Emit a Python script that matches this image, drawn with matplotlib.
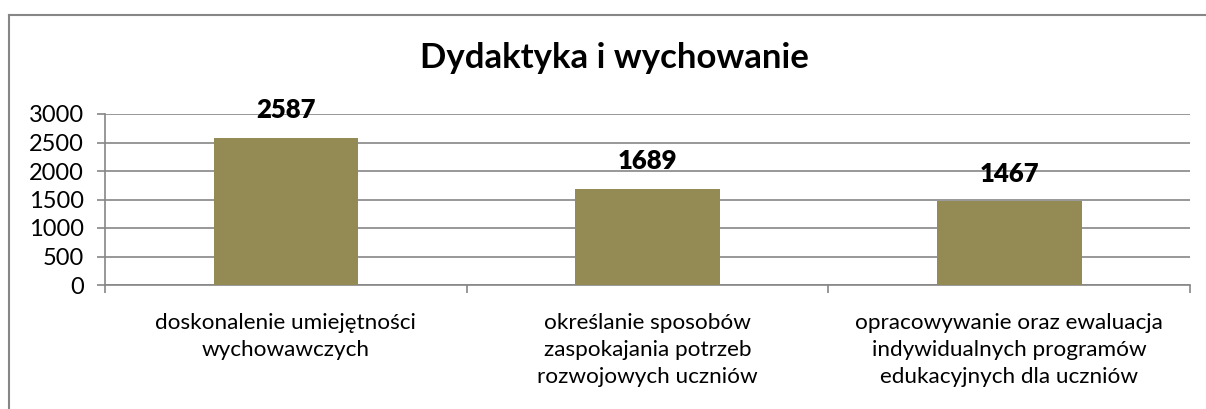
import matplotlib

matplotlib.use("Agg")
import matplotlib.pyplot as plt
from matplotlib.lines import Line2D

plt.rcParams["font.family"] = ["Lato", "DejaVu Sans"]

# dane
title = "Dydaktyka i wychowanie"
categories = [
    "doskonalenie umiejętności\nwychowawczych",
    "określanie sposobów\nzaspokajania potrzeb\nrozwojowych uczniów",
    "opracowywanie oraz ewaluacja\nindywidualnych programów\nedukacyjnych dla uczniów",
]
values = [2587, 1689, 1467]
yticks = [0, 500, 1000, 1500, 2000, 2500, 3000]

W, H = 1206, 409
grid_color = "#868686"
bar_color = "#948A54"

fig = plt.figure(figsize=(W / 100, H / 100), dpi=100)

# ramka wykresu (lewa i górna krawędź)
fig.add_artist(Line2D([9 / W, 9 / W], [0, 1 - 15 / H], color=grid_color, lw=1.5))
fig.add_artist(Line2D([9 / W, 1], [1 - 15 / H, 1 - 15 / H], color=grid_color, lw=1.5))

ax = fig.add_axes([105 / W, (H - 285) / H, (1190 - 105) / W, (285 - 114) / H])
x = list(range(len(values)))
ax.bar(x, values, width=0.4, color=bar_color, zorder=3)
ax.set_xlim(-0.5, len(values) - 0.5)
ax.set_ylim(0, 3000)
ax.set_yticks(yticks)
ax.yaxis.grid(True, color=grid_color, lw=1.2)
ax.set_axisbelow(True)

for s in ("top", "right"):
    ax.spines[s].set_visible(False)
for s in ("left", "bottom"):
    ax.spines[s].set_color(grid_color)
    ax.spines[s].set_linewidth(1.2)

ax.tick_params(axis="y", length=6, width=1.2, color=grid_color, labelsize=17, pad=9)
ax.set_xticks(x)
ax.set_xticklabels(categories, fontsize=16.2, linespacing=1.42)
ax.tick_params(axis="x", length=0, pad=20.5)
ax.set_xticks([i - 0.5 for i in range(len(values) + 1)], minor=True)
ax.tick_params(axis="x", which="minor", length=6, width=1.2, color=grid_color)

for xi, v in zip(x, values):
    ax.annotate(str(v), (xi, v), xytext=(0, 14), textcoords="offset points",
                ha="center", va="baseline", fontsize=18.5, fontweight="heavy")

fig.text(614 / W, 1 - 58 / H, title, ha="center", va="center",
         fontsize=25, fontweight="bold")

fig.savefig("out.png", dpi=100)
